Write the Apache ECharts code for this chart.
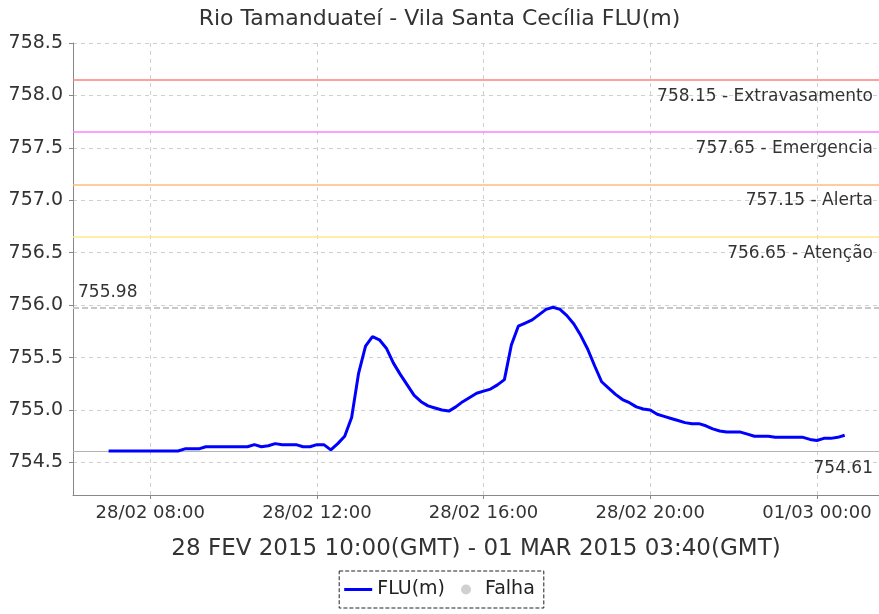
<!DOCTYPE html>
<html>
<head>
<meta charset="utf-8">
<script src="https://cdn.jsdelivr.net/npm/echarts@6/dist/echarts.min.js"></script>
<style>
  html, body { margin: 0; padding: 0; background: #fff; }
  #chart { width: 879px; height: 614px; }
</style>
</head>
<body>
<div id="chart"></div>
<script>
var titleText = 'Rio Tamanduateí - Vila Santa Cecília FLU(m)';
var periodText = '28 FEV 2015 10:00(GMT) - 01 MAR 2015 03:40(GMT)';

// leituras a cada 10 min, a partir de 28/02 07:00 (hora local)
var startHour = 7;
var stepMinutes = 10;
var levels = [
  754.61, 754.61, 754.61, 754.61, 754.61, 754.61, 754.61, 754.61, 754.61, 754.61,
  754.61, 754.63, 754.63, 754.63, 754.65, 754.65, 754.65, 754.65, 754.65, 754.65,
  754.65, 754.67, 754.65, 754.66, 754.68, 754.67, 754.67, 754.67, 754.65, 754.65,
  754.67, 754.67, 754.62, 754.68, 754.75, 754.93, 755.35, 755.61, 755.70, 755.67,
  755.59, 755.45, 755.34, 755.24, 755.14, 755.08, 755.04, 755.02, 755.00, 754.99,
  755.03, 755.08, 755.12, 755.16, 755.18, 755.20, 755.24, 755.29, 755.62, 755.80,
  755.83, 755.86, 755.91, 755.96, 755.98, 755.96, 755.90, 755.82, 755.71, 755.58,
  755.42, 755.27, 755.21, 755.15, 755.10, 755.07, 755.03, 755.01, 755.00, 754.96,
  754.94, 754.92, 754.90, 754.88, 754.87, 754.87, 754.85, 754.82, 754.80, 754.79,
  754.79, 754.79, 754.77, 754.75, 754.75, 754.75, 754.74, 754.74, 754.74, 754.74,
  754.74, 754.72, 754.71, 754.73, 754.73, 754.74, 754.76
];

var thresholdValues = [758.15, 757.65, 757.15, 756.65];
var thresholdNames = ['Extravasamento', 'Emergencia', 'Alerta', 'Atenção'];
var thresholdColors = ['#ff8080', '#ff80ff', '#ffbb80', '#ffe88a'];
var maxLevel = 755.98;
var minLevel = 754.61;

var yTicks = [754.5, 755.0, 755.5, 756.0, 756.5, 757.0, 757.5, 758.0, 758.5];
var xTicks = [8, 12, 16, 20, 24];

var font = 'DejaVu Sans';

function pad(n) {
  return (n < 10 ? '0' : '') + n;
}

function hourLabel(h) {
  if (h >= 24) {
    return '01/03 ' + pad(Math.round(h - 24)) + ':00';
  }
  return '28/02 ' + pad(Math.round(h)) + ':00';
}

var lineData = levels.map(function (v, i) {
  return [startHour + i * stepMinutes / 60, v];
});

var marks = thresholdValues.map(function (v, i) {
  return {
    yAxis: v,
    lineStyle: { color: thresholdColors[i], width: 1.5, type: 'solid' },
    label: {
      position: 'insideEndBottom',
      distance: [6, 8],
      formatter: v.toFixed(2) + ' - ' + thresholdNames[i]
    }
  };
});
marks.push({
  yAxis: maxLevel,
  lineStyle: { color: '#c8c8c8', width: 2, type: [6, 3] },
  label: { position: 'insideStartTop', distance: [5, 6], formatter: maxLevel.toFixed(2) }
});
marks.push({
  yAxis: minLevel,
  lineStyle: { color: '#b4b4b4', width: 1, type: 'solid' },
  label: { position: 'insideEndBottom', distance: [6, 9], formatter: minLevel.toFixed(2) }
});

var chart = echarts.init(document.getElementById('chart'));

var option = {
  animation: false,
  backgroundColor: '#fff',
  title: {
    text: titleText,
    left: 'center',
    top: 3,
    textStyle: { fontFamily: font, fontSize: 22, fontWeight: 'normal', color: '#333' }
  },
  legend: {
    left: 'center',
    top: 571,
    padding: [9, 9, 9, 5],
    itemWidth: 28,
    itemHeight: 10,
    itemGap: 16,
    borderColor: '#222',
    borderWidth: 1,
    borderType: 'dashed',
    textStyle: { fontFamily: font, fontSize: 19, color: '#222' },
    data: [
      { name: 'FLU(m)', icon: 'path://M0,0 L28,0 L28,3 L0,3 Z' },
      { name: 'Falha', icon: 'circle' }
    ]
  },
  grid: { left: 73, top: 43, right: 0, bottom: 119 },
  xAxis: {
    type: 'value',
    min: 6.146,
    max: 25.49,
    name: periodText,
    nameLocation: 'middle',
    nameGap: 43,
    nameTextStyle: { fontFamily: font, fontSize: 23, color: '#333' },
    axisLine: { lineStyle: { color: '#888' } },
    axisTick: { show: true, length: 4, customValues: xTicks, lineStyle: { color: '#888' } },
    axisLabel: {
      customValues: xTicks,
      formatter: hourLabel,
      margin: 9,
      fontFamily: font,
      fontSize: 18,
      color: '#333'
    },
    splitLine: { show: true, lineStyle: { color: '#d0d0d0', type: [4, 4] } }
  },
  yAxis: {
    type: 'value',
    min: 754.19,
    max: 758.5,
    axisLine: { show: true, lineStyle: { color: '#888' } },
    axisTick: { show: true, length: 4, customValues: yTicks, lineStyle: { color: '#888' } },
    axisLabel: {
      customValues: yTicks,
      formatter: function (v) { return v.toFixed(1); },
      margin: 10,
      fontFamily: font,
      fontSize: 19,
      color: '#333'
    },
    splitLine: { show: true, lineStyle: { color: '#d0d0d0', type: [4, 4] } }
  },
  series: [
    {
      name: 'FLU(m)',
      type: 'line',
      data: lineData,
      symbol: 'none',
      lineStyle: { color: '#0000ff', width: 3 },
      itemStyle: { color: '#0000ff' },
      z: 5,
      markLine: {
        silent: true,
        symbol: 'none',
        animation: false,
        label: { fontFamily: font, fontSize: 17, color: '#333' },
        data: marks
      }
    },
    {
      name: 'Falha',
      type: 'scatter',
      data: [],
      symbol: 'circle',
      itemStyle: { color: '#c4c4c4' }
    }
  ]
};

chart.setOption(option);
</script>
</body>
</html>
